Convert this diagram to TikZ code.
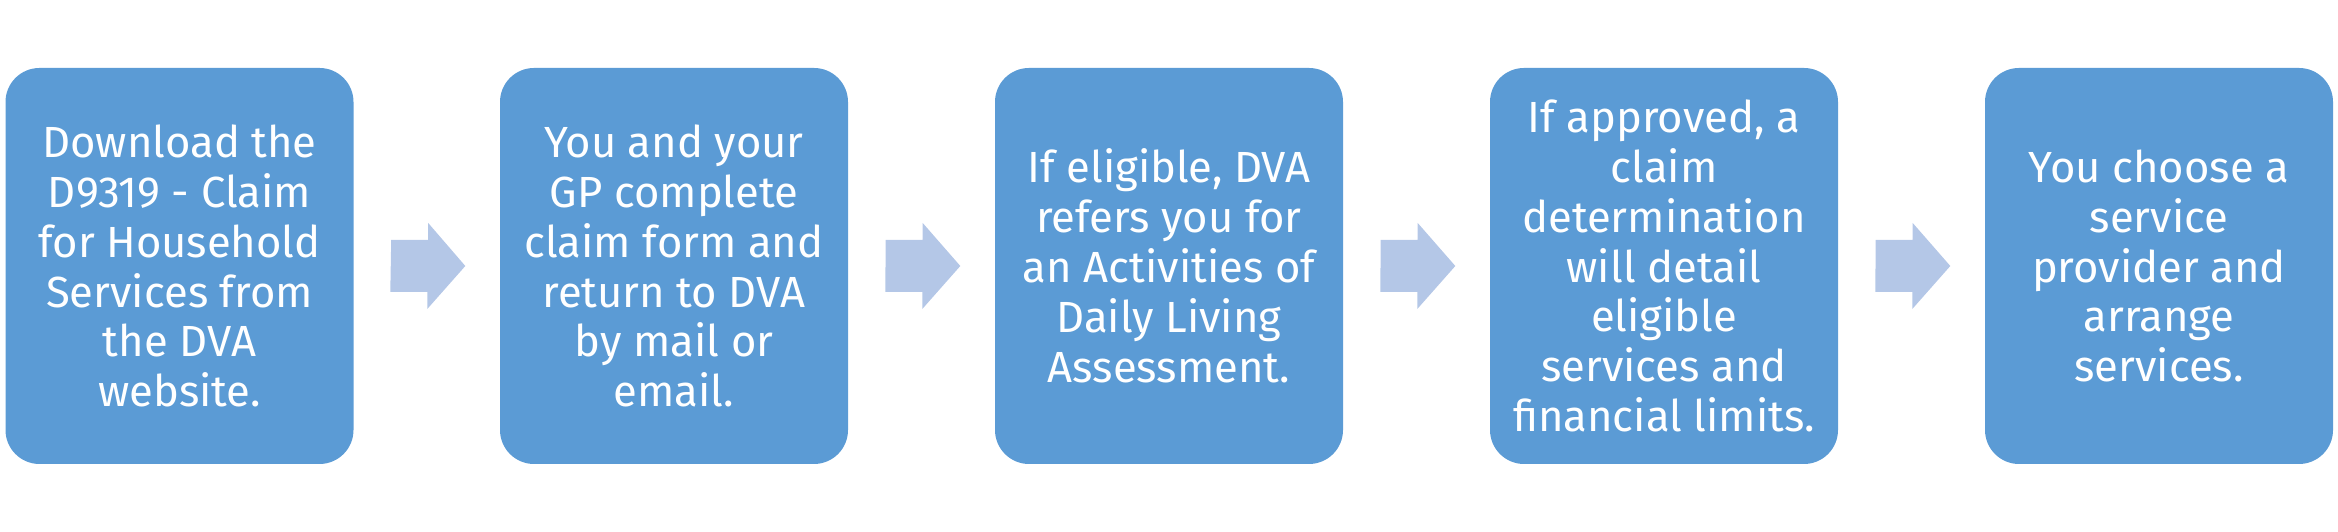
\documentclass[tikz,border=0pt]{standalone}
\usepackage{fontspec}
\setmainfont{Fira Sans}
\usepackage{tikz}
\usetikzlibrary{calc, positioning}
\usepackage{xcolor}
\definecolor{boxblue}{HTML}{5B9BD5}
\definecolor{arrowblue}{HTML}{B4C7E7}

\begin{document}
\begin{tikzpicture}[auto]
				\tikzstyle{stepbox} = [fill=boxblue, draw=none, rounded corners=0.34cm, minimum width=3.48cm, minimum height=3.96cm, inner sep=0pt, align=center, text=white, font=\fontsize{12.4}{14.2}\selectfont]
				\tikzstyle{flow} = [fill=arrowblue, draw=none]
				
				\useasboundingbox (0,0) rectangle (23.38,5.32);
				
				\node[stepbox] 			at (1.795, 2.66) 	(b1) 	{Download the\\D9319 - Claim\\for Household\\Services from\\the DVA\\website.};
				\node[stepbox] 			at (6.74, 2.66) 	(b2) 	{You and your\\GP complete\\claim form and\\return to DVA\\by mail or\\email.};
				\node[stepbox] 			at (11.69, 2.66) 	(b3) 	{If eligible, DVA\\refers you for\\an Activities of\\Daily Living\\Assessment.};
				\node[stepbox] 			at (16.64, 2.66) 	(b4) 	{If approved, a\\claim\\determination\\will detail\\eligible\\services and\\financial limits.};
				\node[stepbox] 			at (21.59, 2.66) 	(b5) 	{You choose a\\service\\provider and\\arrange\\services.};
				
				% block arrows between the steps
				\foreach \from/\to in {b1/b2, b2/b3, b3/b4, b4/b5}
					\fill[flow] ($(\from.east)+(0.37,0.26)$) -- ++(0.37,0) -- ++(0,0.17) -- ($(\to.west)+(-0.34,0)$)
						-- ++(-0.38,-0.43) -- ++(0,0.17) -- ++(-0.37,0) -- cycle;
			\end{tikzpicture}
\end{document}
